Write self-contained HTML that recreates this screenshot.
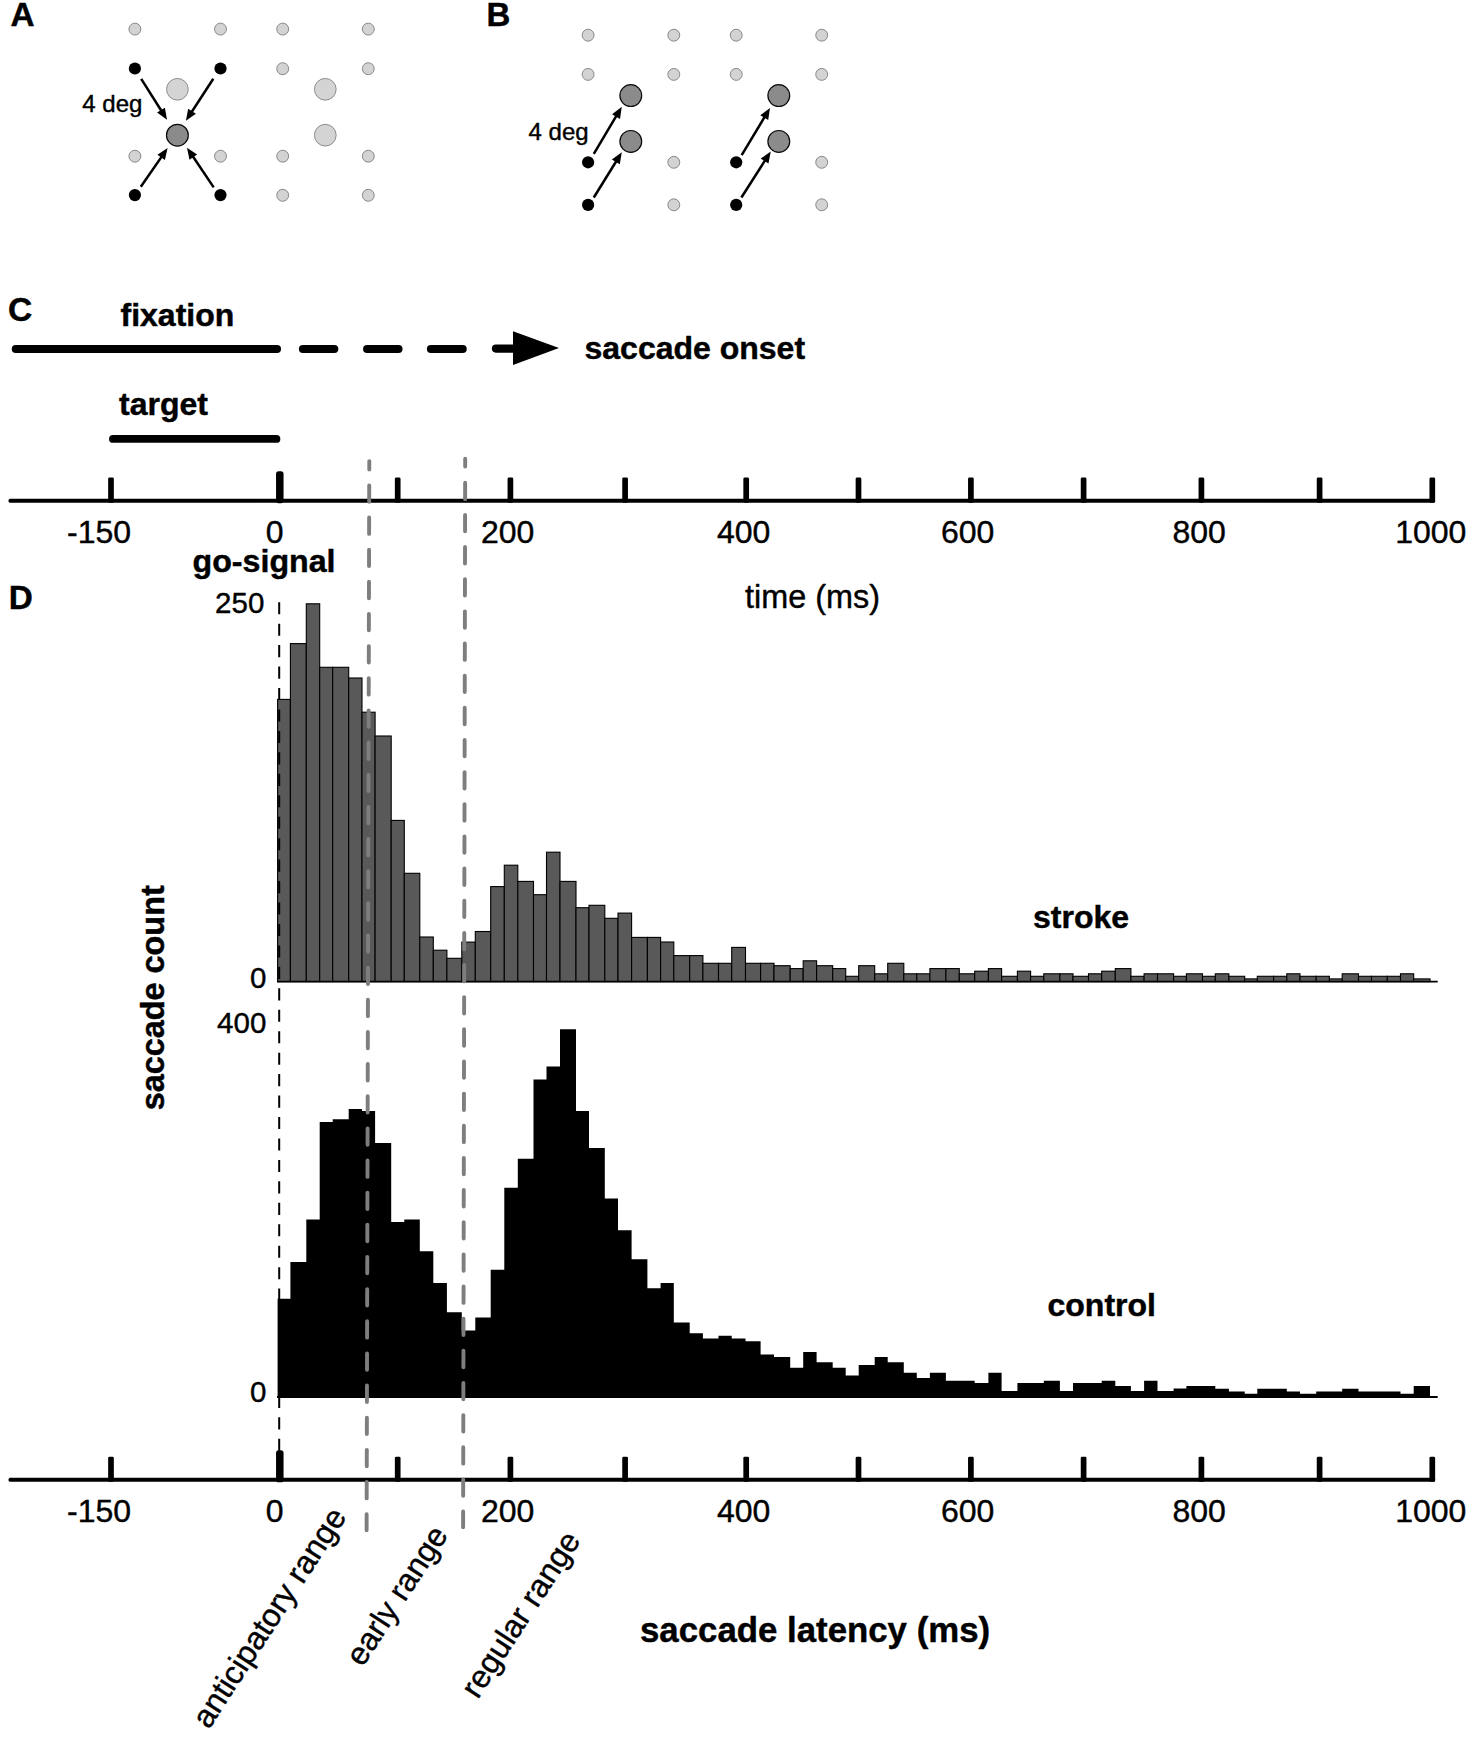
<!DOCTYPE html>
<html lang="en"><head><meta charset="utf-8"><title>Figure</title>
<style>html,body{margin:0;padding:0;background:#fff}svg{display:block}</style></head>
<body>
<svg width="1477" height="1738" viewBox="0 0 1477 1738" font-family='"Liberation Sans", Arial, Helvetica, sans-serif' fill="#000">
<rect width="1477" height="1738" fill="#fff"/>
<g id="panelA">
<text x="10.6" y="26.4" font-size="33.3" font-weight="bold" text-anchor="start" stroke="#000" stroke-width="0.45" stroke-linejoin="round">A</text>
<circle cx="134.9" cy="29.1" r="5.95" fill="#d3d3d3" stroke="#888" stroke-width="1"/>
<circle cx="220.5" cy="29.1" r="5.95" fill="#d3d3d3" stroke="#888" stroke-width="1"/>
<circle cx="282.7" cy="29.1" r="5.95" fill="#d3d3d3" stroke="#888" stroke-width="1"/>
<circle cx="368.3" cy="29.1" r="5.95" fill="#d3d3d3" stroke="#888" stroke-width="1"/>
<circle cx="134.9" cy="68.5" r="6.1" fill="#000"/>
<circle cx="134.9" cy="156.2" r="5.95" fill="#d3d3d3" stroke="#888" stroke-width="1"/>
<circle cx="134.9" cy="195.1" r="6.1" fill="#000"/>
<circle cx="220.5" cy="68.5" r="6.1" fill="#000"/>
<circle cx="220.5" cy="156.2" r="5.95" fill="#d3d3d3" stroke="#888" stroke-width="1"/>
<circle cx="220.5" cy="195.1" r="6.1" fill="#000"/>
<circle cx="282.7" cy="68.7" r="5.95" fill="#d3d3d3" stroke="#888" stroke-width="1"/>
<circle cx="282.7" cy="156.2" r="5.95" fill="#d3d3d3" stroke="#888" stroke-width="1"/>
<circle cx="282.7" cy="195.3" r="5.95" fill="#d3d3d3" stroke="#888" stroke-width="1"/>
<circle cx="368.3" cy="68.7" r="5.95" fill="#d3d3d3" stroke="#888" stroke-width="1"/>
<circle cx="368.3" cy="156.2" r="5.95" fill="#d3d3d3" stroke="#888" stroke-width="1"/>
<circle cx="368.3" cy="195.3" r="5.95" fill="#d3d3d3" stroke="#888" stroke-width="1"/>
<circle cx="177.4" cy="89.3" r="10.85" fill="#d4d4d4" stroke="#8c8c8c" stroke-width="1"/>
<circle cx="177.4" cy="135.2" r="10.9" fill="#8b8b8b" stroke="#0a0a0a" stroke-width="1.2"/>
<circle cx="325.3" cy="89.3" r="10.85" fill="#d4d4d4" stroke="#8c8c8c" stroke-width="1"/>
<circle cx="325.3" cy="135.2" r="10.85" fill="#d4d4d4" stroke="#8c8c8c" stroke-width="1"/>
<line x1="141.2" y1="78.8" x2="161.5" y2="111.0" stroke="#000" stroke-width="2.5"/>
<polygon points="167.0,119.7 157.1,112.6 164.9,107.7"/>
<line x1="213.3" y1="78.8" x2="191.5" y2="112.2" stroke="#000" stroke-width="2.5"/>
<polygon points="185.9,120.8 188.2,108.8 195.9,113.8"/>
<line x1="140.8" y1="186.7" x2="161.7" y2="156.6" stroke="#000" stroke-width="2.5"/>
<polygon points="167.6,148.1 164.9,160.0 157.4,154.8"/>
<line x1="213.7" y1="187.4" x2="192.8" y2="156.3" stroke="#000" stroke-width="2.5"/>
<polygon points="187.0,147.8 197.1,154.6 189.5,159.7"/>
<text x="82.3" y="111.6" font-size="24" text-anchor="start" stroke="#000" stroke-width="0.4" stroke-linejoin="round">4 deg</text>
</g>
<g id="panelB">
<text x="486.6" y="26.4" font-size="33" font-weight="bold" text-anchor="start" stroke="#000" stroke-width="0.45" stroke-linejoin="round">B</text>
<circle cx="588.1" cy="35.2" r="5.95" fill="#d3d3d3" stroke="#888" stroke-width="1"/>
<circle cx="588.1" cy="74.4" r="5.95" fill="#d3d3d3" stroke="#888" stroke-width="1"/>
<circle cx="673.8" cy="35.2" r="5.95" fill="#d3d3d3" stroke="#888" stroke-width="1"/>
<circle cx="673.8" cy="74.4" r="5.95" fill="#d3d3d3" stroke="#888" stroke-width="1"/>
<circle cx="736.2" cy="35.2" r="5.95" fill="#d3d3d3" stroke="#888" stroke-width="1"/>
<circle cx="736.2" cy="74.4" r="5.95" fill="#d3d3d3" stroke="#888" stroke-width="1"/>
<circle cx="821.7" cy="35.2" r="5.95" fill="#d3d3d3" stroke="#888" stroke-width="1"/>
<circle cx="821.7" cy="74.4" r="5.95" fill="#d3d3d3" stroke="#888" stroke-width="1"/>
<circle cx="673.8" cy="162.3" r="5.95" fill="#d3d3d3" stroke="#888" stroke-width="1"/>
<circle cx="673.8" cy="204.8" r="5.95" fill="#d3d3d3" stroke="#888" stroke-width="1"/>
<circle cx="821.7" cy="162.3" r="5.95" fill="#d3d3d3" stroke="#888" stroke-width="1"/>
<circle cx="821.7" cy="204.8" r="5.95" fill="#d3d3d3" stroke="#888" stroke-width="1"/>
<circle cx="588.1" cy="162.3" r="6.1" fill="#000"/>
<circle cx="588.1" cy="204.9" r="6.1" fill="#000"/>
<circle cx="736.2" cy="162.3" r="6.1" fill="#000"/>
<circle cx="736.2" cy="204.9" r="6.1" fill="#000"/>
<circle cx="630.8" cy="95.6" r="10.9" fill="#8b8b8b" stroke="#0a0a0a" stroke-width="1.2"/>
<circle cx="630.8" cy="141.4" r="10.9" fill="#8b8b8b" stroke="#0a0a0a" stroke-width="1.2"/>
<circle cx="778.8" cy="95.6" r="10.9" fill="#8b8b8b" stroke="#0a0a0a" stroke-width="1.2"/>
<circle cx="778.8" cy="141.4" r="10.9" fill="#8b8b8b" stroke="#0a0a0a" stroke-width="1.2"/>
<line x1="593.8" y1="153.8" x2="616.5" y2="115.6" stroke="#000" stroke-width="2.5"/>
<polygon points="621.8,106.8 620.0,118.9 612.1,114.2"/>
<line x1="593.8" y1="197.5" x2="616.4" y2="161.0" stroke="#000" stroke-width="2.5"/>
<polygon points="621.8,152.2 619.8,164.2 611.9,159.4"/>
<line x1="741.7" y1="155.2" x2="764.8" y2="116.7" stroke="#000" stroke-width="2.5"/>
<polygon points="770.0,107.9 768.2,120.0 760.3,115.2"/>
<line x1="741.4" y1="197.5" x2="765.2" y2="160.2" stroke="#000" stroke-width="2.5"/>
<polygon points="770.7,151.5 768.5,163.5 760.7,158.6"/>
<text x="528.6" y="140" font-size="24" text-anchor="start" stroke="#000" stroke-width="0.4" stroke-linejoin="round">4 deg</text>
</g>
<g id="panelC">
<text x="7.9" y="320.7" font-size="33.6" font-weight="bold" text-anchor="start" stroke="#000" stroke-width="0.45" stroke-linejoin="round">C</text>
<text x="120.5" y="325.7" font-size="32" font-weight="bold" text-anchor="start" stroke="#000" stroke-width="0.45" stroke-linejoin="round">fixation</text>
<text x="119" y="415.4" font-size="32" font-weight="bold" text-anchor="start" stroke="#000" stroke-width="0.45" stroke-linejoin="round">target</text>
<text x="584.5" y="358.9" font-size="32" font-weight="bold" text-anchor="start" stroke="#000" stroke-width="0.45" stroke-linejoin="round">saccade onset</text>
<text x="192.5" y="572" font-size="32.2" font-weight="bold" text-anchor="start" stroke="#000" stroke-width="0.45" stroke-linejoin="round">go-signal</text>
<line x1="15.8" y1="349" x2="277" y2="349" stroke="#000" stroke-width="8.1" stroke-linecap="round"/>
<line x1="302.9" y1="349" x2="334.3" y2="349" stroke="#000" stroke-width="8.1" stroke-linecap="round"/>
<line x1="367.1" y1="349" x2="398.5" y2="349" stroke="#000" stroke-width="8.1" stroke-linecap="round"/>
<line x1="430.9" y1="349" x2="462.7" y2="349" stroke="#000" stroke-width="8.1" stroke-linecap="round"/>
<line x1="495.9" y1="348.6" x2="520" y2="348.6" stroke="#000" stroke-width="8.1" stroke-linecap="round"/>
<polygon points="513,331.2 559,348.1 513,365"/>
<line x1="113" y1="438.9" x2="276.4" y2="438.9" stroke="#000" stroke-width="7.9" stroke-linecap="round"/>
</g>
<g id="axisTop">
<rect x="8.6" y="498.7" width="1426.4" height="4" rx="1.5" fill="#000"/>
<rect x="108.15" y="477.60" width="5.7" height="25.1" rx="1.4" fill="#000"/>
<rect x="276.05" y="471.20" width="7.5" height="32.0" rx="2.6" fill="#000"/>
<rect x="394.85" y="477.60" width="5.7" height="25.1" rx="1.4" fill="#000"/>
<rect x="507.55" y="477.60" width="5.7" height="25.1" rx="1.4" fill="#000"/>
<rect x="622.25" y="477.60" width="5.7" height="25.1" rx="1.4" fill="#000"/>
<rect x="743.35" y="477.60" width="5.7" height="25.1" rx="1.4" fill="#000"/>
<rect x="855.65" y="477.60" width="5.7" height="25.1" rx="1.4" fill="#000"/>
<rect x="968.05" y="477.60" width="5.7" height="25.1" rx="1.4" fill="#000"/>
<rect x="1080.75" y="477.60" width="5.7" height="25.1" rx="1.4" fill="#000"/>
<rect x="1198.55" y="477.60" width="5.7" height="25.1" rx="1.4" fill="#000"/>
<rect x="1316.75" y="477.60" width="5.7" height="25.1" rx="1.4" fill="#000"/>
<rect x="1429.45" y="477.60" width="5.7" height="25.1" rx="1.4" fill="#000"/>
<text x="99" y="542.8" font-size="32" text-anchor="middle" stroke="#000" stroke-width="0.4" stroke-linejoin="round">-150</text>
<text x="274.6" y="542.8" font-size="32" text-anchor="middle" stroke="#000" stroke-width="0.4" stroke-linejoin="round">0</text>
<text x="507.6" y="542.8" font-size="32" text-anchor="middle" stroke="#000" stroke-width="0.4" stroke-linejoin="round">200</text>
<text x="743.7" y="542.8" font-size="32" text-anchor="middle" stroke="#000" stroke-width="0.4" stroke-linejoin="round">400</text>
<text x="967.7" y="542.8" font-size="32" text-anchor="middle" stroke="#000" stroke-width="0.4" stroke-linejoin="round">600</text>
<text x="1199.1" y="542.8" font-size="32" text-anchor="middle" stroke="#000" stroke-width="0.4" stroke-linejoin="round">800</text>
<text x="1430.8" y="542.8" font-size="32" text-anchor="middle" stroke="#000" stroke-width="0.4" stroke-linejoin="round">1000</text>
</g>
<text x="745" y="607.7" font-size="32.4" text-anchor="start" stroke="#000" stroke-width="0.4" stroke-linejoin="round">time (ms)</text>
<g id="panelD">
<text x="8.8" y="608.6" font-size="33.3" font-weight="bold" text-anchor="start" stroke="#000" stroke-width="0.45" stroke-linejoin="round">D</text>
<g fill="#595959" stroke="#000" stroke-width="1.1">
<rect x="277.6" y="699.4" width="12.8" height="282.2"/>
<rect x="290.4" y="643.6" width="15.9" height="338.0"/>
<rect x="306.3" y="603.8" width="13.4" height="377.8"/>
<rect x="319.7" y="667.3" width="13.0" height="314.3"/>
<rect x="332.7" y="667.3" width="16.0" height="314.3"/>
<rect x="348.7" y="678.0" width="13.3" height="303.6"/>
<rect x="362.0" y="712.2" width="13.1" height="269.4"/>
<rect x="375.1" y="736.0" width="16.1" height="245.6"/>
<rect x="391.2" y="820.4" width="13.1" height="161.2"/>
<rect x="404.3" y="873.3" width="15.5" height="108.3"/>
<rect x="419.8" y="937.0" width="13.5" height="44.6"/>
<rect x="433.3" y="950.2" width="13.6" height="31.4"/>
<rect x="446.9" y="958.3" width="14.9" height="23.3"/>
<rect x="461.8" y="942.1" width="13.5" height="39.5"/>
<rect x="475.3" y="931.5" width="15.4" height="50.1"/>
<rect x="490.7" y="886.6" width="13.6" height="95.0"/>
<rect x="504.3" y="865.2" width="13.5" height="116.4"/>
<rect x="517.8" y="881.4" width="15.7" height="100.2"/>
<rect x="533.5" y="894.7" width="13.0" height="86.9"/>
<rect x="546.5" y="852.2" width="13.5" height="129.4"/>
<rect x="560.0" y="881.4" width="16.0" height="100.2"/>
<rect x="576.0" y="907.7" width="13.0" height="73.9"/>
<rect x="589.0" y="905.3" width="15.8" height="76.3"/>
<rect x="604.8" y="918.3" width="13.2" height="63.3"/>
<rect x="618.0" y="913.1" width="13.6" height="68.5"/>
<rect x="631.6" y="937.4" width="15.8" height="44.2"/>
<rect x="647.4" y="937.4" width="13.2" height="44.2"/>
<rect x="660.6" y="942.0" width="13.2" height="39.6"/>
<rect x="673.8" y="955.6" width="15.9" height="26.0"/>
<rect x="689.7" y="955.6" width="13.2" height="26.0"/>
<rect x="702.9" y="963.3" width="15.6" height="18.3"/>
<rect x="718.5" y="963.3" width="13.2" height="18.3"/>
<rect x="731.7" y="947.4" width="13.8" height="34.2"/>
<rect x="745.5" y="963.3" width="15.1" height="18.3"/>
<rect x="760.6" y="963.3" width="13.4" height="18.3"/>
<rect x="774.0" y="965.7" width="16.2" height="15.9"/>
<rect x="790.2" y="968.6" width="13.0" height="13.0"/>
<rect x="803.2" y="960.8" width="13.4" height="20.8"/>
<rect x="816.6" y="965.7" width="16.1" height="15.9"/>
<rect x="832.7" y="968.6" width="13.0" height="13.0"/>
<rect x="845.7" y="976.3" width="13.0" height="5.3"/>
<rect x="858.7" y="965.7" width="16.0" height="15.9"/>
<rect x="874.7" y="973.8" width="13.0" height="7.8"/>
<rect x="887.7" y="963.3" width="16.1" height="18.3"/>
<rect x="903.8" y="973.8" width="13.0" height="7.8"/>
<rect x="916.8" y="973.8" width="13.1" height="7.8"/>
<rect x="929.9" y="968.6" width="16.0" height="13.0"/>
<rect x="945.9" y="968.6" width="13.4" height="13.0"/>
<rect x="959.3" y="973.8" width="15.4" height="7.8"/>
<rect x="974.7" y="971.2" width="13.7" height="10.4"/>
<rect x="988.4" y="968.6" width="13.2" height="13.0"/>
<rect x="1001.6" y="976.3" width="15.8" height="5.3"/>
<rect x="1017.4" y="971.2" width="13.2" height="10.4"/>
<rect x="1030.6" y="976.3" width="13.2" height="5.3"/>
<rect x="1043.8" y="973.8" width="16.1" height="7.8"/>
<rect x="1059.9" y="973.8" width="13.1" height="7.8"/>
<rect x="1073.0" y="976.3" width="15.5" height="5.3"/>
<rect x="1088.5" y="973.8" width="13.2" height="7.8"/>
<rect x="1101.7" y="971.2" width="13.6" height="10.4"/>
<rect x="1115.3" y="968.6" width="15.6" height="13.0"/>
<rect x="1130.9" y="976.3" width="13.2" height="5.3"/>
<rect x="1144.1" y="973.8" width="13.4" height="7.8"/>
<rect x="1157.5" y="973.8" width="16.1" height="7.8"/>
<rect x="1173.6" y="976.3" width="12.8" height="5.3"/>
<rect x="1186.4" y="973.8" width="16.1" height="7.8"/>
<rect x="1202.5" y="976.3" width="12.8" height="5.3"/>
<rect x="1215.3" y="973.8" width="13.6" height="7.8"/>
<rect x="1228.9" y="976.3" width="15.8" height="5.3"/>
<rect x="1244.7" y="978.9" width="12.6" height="2.7"/>
<rect x="1257.3" y="976.3" width="16.3" height="5.3"/>
<rect x="1273.6" y="976.3" width="13.2" height="5.3"/>
<rect x="1286.8" y="973.8" width="13.2" height="7.8"/>
<rect x="1300.0" y="976.3" width="16.2" height="5.3"/>
<rect x="1316.2" y="976.3" width="13.2" height="5.3"/>
<rect x="1329.4" y="978.9" width="12.8" height="2.7"/>
<rect x="1342.2" y="973.8" width="16.3" height="7.8"/>
<rect x="1358.5" y="976.3" width="13.0" height="5.3"/>
<rect x="1371.5" y="976.3" width="15.8" height="5.3"/>
<rect x="1387.3" y="976.3" width="13.2" height="5.3"/>
<rect x="1400.5" y="973.8" width="13.2" height="7.8"/>
<rect x="1413.7" y="978.9" width="16.3" height="2.7"/>
</g>
<line x1="277" y1="981.6" x2="1437.7" y2="981.6" stroke="#000" stroke-width="1.8"/>
<path d="M277.6,1397.8 L277.6,1298.7 L290.4,1298.7 L290.4,1261.9 L306.3,1261.9 L306.3,1219.4 L319.7,1219.4 L319.7,1121.9 L332.7,1121.9 L332.7,1119.2 L348.7,1119.2 L348.7,1108.9 L362.0,1108.9 L362.0,1111.0 L375.1,1111.0 L375.1,1143.0 L391.2,1143.0 L391.2,1222.1 L404.3,1222.1 L404.3,1219.4 L419.8,1219.4 L419.8,1251.3 L433.3,1251.3 L433.3,1283.0 L446.9,1283.0 L446.9,1312.3 L461.8,1312.3 L461.8,1330.4 L475.3,1330.4 L475.3,1317.4 L490.7,1317.4 L490.7,1269.7 L504.3,1269.7 L504.3,1187.7 L517.8,1187.7 L517.8,1158.7 L533.5,1158.7 L533.5,1079.4 L546.5,1079.4 L546.5,1066.4 L560.0,1066.4 L560.0,1029.2 L576.0,1029.2 L576.0,1111.0 L589.0,1111.0 L589.0,1148.1 L604.8,1148.1 L604.8,1198.5 L618.0,1198.5 L618.0,1230.2 L631.6,1230.2 L631.6,1259.2 L647.4,1259.2 L647.4,1288.2 L660.6,1288.2 L660.6,1283.0 L673.8,1283.0 L673.8,1322.6 L689.7,1322.6 L689.7,1333.3 L702.9,1333.3 L702.9,1338.4 L718.5,1338.4 L718.5,1335.8 L731.7,1335.8 L731.7,1338.4 L745.5,1338.4 L745.5,1341.3 L760.6,1341.3 L760.6,1354.5 L774.0,1354.5 L774.0,1357.1 L790.2,1357.1 L790.2,1367.7 L803.2,1367.7 L803.2,1352.0 L816.6,1352.0 L816.6,1362.2 L832.7,1362.2 L832.7,1367.7 L845.7,1367.7 L845.7,1375.6 L858.7,1375.6 L858.7,1365.0 L874.7,1365.0 L874.7,1357.1 L887.7,1357.1 L887.7,1362.2 L903.8,1362.2 L903.8,1372.7 L916.8,1372.7 L916.8,1377.9 L929.9,1377.9 L929.9,1372.7 L945.9,1372.7 L945.9,1380.7 L959.3,1380.7 L959.3,1380.7 L974.7,1380.7 L974.7,1383.1 L988.4,1383.1 L988.4,1372.7 L1001.6,1372.7 L1001.6,1391.0 L1017.4,1391.0 L1017.4,1383.1 L1030.6,1383.1 L1030.6,1383.1 L1043.8,1383.1 L1043.8,1380.7 L1059.9,1380.7 L1059.9,1391.0 L1073.0,1391.0 L1073.0,1383.1 L1088.5,1383.1 L1088.5,1383.1 L1101.7,1383.1 L1101.7,1380.7 L1115.3,1380.7 L1115.3,1385.9 L1130.9,1385.9 L1130.9,1391.0 L1144.1,1391.0 L1144.1,1380.7 L1157.5,1380.7 L1157.5,1391.0 L1173.6,1391.0 L1173.6,1388.6 L1186.4,1388.6 L1186.4,1386.0 L1202.5,1386.0 L1202.5,1386.1 L1215.3,1386.1 L1215.3,1388.8 L1228.9,1388.8 L1228.9,1391.4 L1244.7,1391.4 L1244.7,1393.8 L1257.3,1393.8 L1257.3,1388.8 L1273.6,1388.8 L1273.6,1388.8 L1286.8,1388.8 L1286.8,1391.4 L1300.0,1391.4 L1300.0,1393.8 L1316.2,1393.8 L1316.2,1391.4 L1329.4,1391.4 L1329.4,1391.4 L1342.2,1391.4 L1342.2,1388.8 L1358.5,1388.8 L1358.5,1391.4 L1371.5,1391.4 L1371.5,1391.4 L1387.3,1391.4 L1387.3,1391.4 L1400.5,1391.4 L1400.5,1393.8 L1413.7,1393.8 L1413.7,1386.1 L1430.0,1386.1 L1430.0,1397.8 Z" fill="#000"/>
<line x1="277" y1="1397.0" x2="1437.7" y2="1397.0" stroke="#000" stroke-width="1.8"/>
<text x="264.3" y="613" font-size="29.5" text-anchor="end" stroke="#000" stroke-width="0.4" stroke-linejoin="round">250</text>
<text x="266.3" y="987.6" font-size="29.5" text-anchor="end" stroke="#000" stroke-width="0.4" stroke-linejoin="round">0</text>
<text x="266.3" y="1032.6" font-size="29.5" text-anchor="end" stroke="#000" stroke-width="0.4" stroke-linejoin="round">400</text>
<text x="266.3" y="1402" font-size="29.5" text-anchor="end" stroke="#000" stroke-width="0.4" stroke-linejoin="round">0</text>
<text x="1033" y="927.7" font-size="32" font-weight="bold" text-anchor="start" stroke="#000" stroke-width="0.45" stroke-linejoin="round">stroke</text>
<text x="1047.5" y="1316" font-size="32" font-weight="bold" text-anchor="start" stroke="#000" stroke-width="0.45" stroke-linejoin="round">control</text>
<text x="163.8" y="1110.3" font-size="32.4" font-weight="bold" text-anchor="start" transform="rotate(-90 163.8 1110.3)" stroke="#000" stroke-width="0.45" stroke-linejoin="round">saccade count</text>
<line x1="279.2" y1="602.2" x2="279.2" y2="1452" stroke="#000" stroke-width="2" stroke-dasharray="12.1 9.35"/>
</g>
<g id="axisBottom">
<rect x="8.6" y="1477.8" width="1426.4" height="4" rx="1.5" fill="#000"/>
<rect x="108.15" y="1456.70" width="5.7" height="25.1" rx="1.4" fill="#000"/>
<rect x="276.05" y="1450.30" width="7.5" height="32.0" rx="2.6" fill="#000"/>
<rect x="394.85" y="1456.70" width="5.7" height="25.1" rx="1.4" fill="#000"/>
<rect x="507.55" y="1456.70" width="5.7" height="25.1" rx="1.4" fill="#000"/>
<rect x="622.25" y="1456.70" width="5.7" height="25.1" rx="1.4" fill="#000"/>
<rect x="743.35" y="1456.70" width="5.7" height="25.1" rx="1.4" fill="#000"/>
<rect x="855.65" y="1456.70" width="5.7" height="25.1" rx="1.4" fill="#000"/>
<rect x="968.05" y="1456.70" width="5.7" height="25.1" rx="1.4" fill="#000"/>
<rect x="1080.75" y="1456.70" width="5.7" height="25.1" rx="1.4" fill="#000"/>
<rect x="1198.55" y="1456.70" width="5.7" height="25.1" rx="1.4" fill="#000"/>
<rect x="1316.75" y="1456.70" width="5.7" height="25.1" rx="1.4" fill="#000"/>
<rect x="1429.45" y="1456.70" width="5.7" height="25.1" rx="1.4" fill="#000"/>
<text x="99" y="1521.9" font-size="32" text-anchor="middle" stroke="#000" stroke-width="0.4" stroke-linejoin="round">-150</text>
<text x="274.6" y="1521.9" font-size="32" text-anchor="middle" stroke="#000" stroke-width="0.4" stroke-linejoin="round">0</text>
<text x="507.6" y="1521.9" font-size="32" text-anchor="middle" stroke="#000" stroke-width="0.4" stroke-linejoin="round">200</text>
<text x="743.7" y="1521.9" font-size="32" text-anchor="middle" stroke="#000" stroke-width="0.4" stroke-linejoin="round">400</text>
<text x="967.7" y="1521.9" font-size="32" text-anchor="middle" stroke="#000" stroke-width="0.4" stroke-linejoin="round">600</text>
<text x="1199.1" y="1521.9" font-size="32" text-anchor="middle" stroke="#000" stroke-width="0.4" stroke-linejoin="round">800</text>
<text x="1430.8" y="1521.9" font-size="32" text-anchor="middle" stroke="#000" stroke-width="0.4" stroke-linejoin="round">1000</text>
</g>
<line x1="369.30" y1="461.09999999999997" x2="369.27" y2="469.6" stroke="#7e7e7e" stroke-width="3.9" stroke-linecap="round"/>
<line x1="369.23" y1="485.35" x2="366.6" y2="1530.25" stroke="#7e7e7e" stroke-width="3.9" stroke-linecap="round" stroke-dasharray="16.4 15.75"/>
<line x1="465.20" y1="458.8" x2="465.18" y2="466.6" stroke="#7e7e7e" stroke-width="3.9" stroke-linecap="round"/>
<line x1="465.15" y1="482.75" x2="463.1" y2="1527.25" stroke="#7e7e7e" stroke-width="3.9" stroke-linecap="round" stroke-dasharray="16.4 15.75"/>
<text x="640" y="1641.6" font-size="34.8" font-weight="bold" text-anchor="start" stroke="#000" stroke-width="0.45" stroke-linejoin="round">saccade latency (ms)</text>
<text x="208.9" y="1729.9" font-size="32" text-anchor="start" transform="rotate(-57 208.9 1729.9)" stroke="#000" stroke-width="0.4" stroke-linejoin="round">anticipatory range</text>
<text x="362.6" y="1667.8" font-size="31.7" text-anchor="start" transform="rotate(-57 362.6 1667.8)" stroke="#000" stroke-width="0.4" stroke-linejoin="round">early range</text>
<text x="477.8" y="1699.9" font-size="32" text-anchor="start" transform="rotate(-57 477.8 1699.9)" stroke="#000" stroke-width="0.4" stroke-linejoin="round">regular range</text>
</svg>
</body></html>
